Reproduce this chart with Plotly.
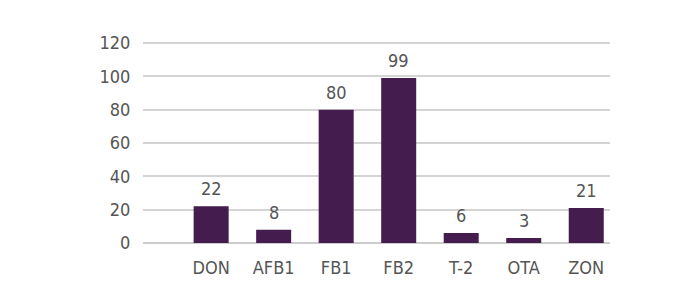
import plotly.graph_objects as go

categories = ["DON", "AFB1", "FB1", "FB2", "T-2", "OTA", "ZON"]
values = [22, 8, 80, 99, 6, 3, 21]
y_ticks = [0, 20, 40, 60, 80, 100, 120]

font_family = "DejaVu Sans Condensed, Liberation Sans Narrow, DejaVu Sans, sans-serif"
text_color = "#555555"
bar_color = "#441c4d"
fsize = 18

xs = list(range(len(categories)))

fig = go.Figure(
    go.Bar(
        x=xs,
        y=values,
        marker=dict(color=bar_color, line=dict(width=0)),
        width=0.56,
        hoverinfo="x+y",
    )
)

for xi, v in zip(xs, values):
    fig.add_annotation(
        x=xi, y=v, text=str(v), showarrow=False,
        yanchor="bottom", yshift=5,
        font=dict(family=font_family, size=fsize, color=text_color),
    )

fig.update_layout(
    width=700,
    height=292,
    margin=dict(l=143, r=90, t=41, b=49),
    paper_bgcolor="white",
    plot_bgcolor="white",
    showlegend=False,
    font=dict(family=font_family, size=fsize, color=text_color),
    xaxis=dict(
        tickmode="array",
        tickvals=xs,
        ticktext=categories,
        range=[-1.09, 6.38],
        showgrid=False,
        zeroline=False,
        showline=False,
        ticks="outside",
        ticklen=8,
        tickcolor="rgba(0,0,0,0)",
        tickfont=dict(family=font_family, size=fsize, color=text_color),
    ),
    yaxis=dict(
        range=[0, 121.2],
        tickmode="array",
        tickvals=y_ticks,
        showgrid=True,
        gridcolor="#d4d4d4",
        gridwidth=1.5,
        zeroline=True,
        zerolinecolor="#cccccc",
        zerolinewidth=1.5,
        showline=False,
        ticks="outside",
        ticklen=8,
        tickcolor="rgba(0,0,0,0)",
        tickfont=dict(family=font_family, size=fsize, color=text_color),
    ),
)

post = """
var s = document.createElement('style');
s.textContent = 'svg text { font-stretch: condensed !important; }';
document.head.appendChild(s);
"""

fig.write_html("out.html", post_script=post)
